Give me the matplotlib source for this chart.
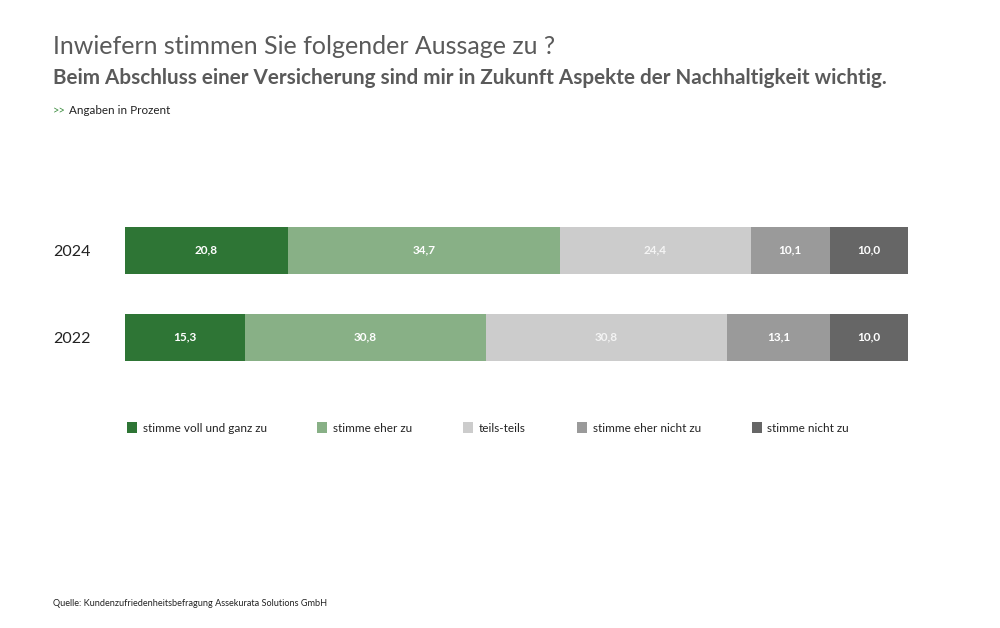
import matplotlib
matplotlib.use("Agg")
import matplotlib.pyplot as plt
import numpy as np

# data
years = ["2024", "2022"]
categories = ["stimme voll und ganz zu", "stimme eher zu", "teils-teils",
              "stimme eher nicht zu", "stimme nicht zu"]
values_2024 = [20.8, 34.7, 24.4, 10.1, 10.0]
values_2022 = [15.3, 30.8, 30.8, 13.1, 10.0]

colors = ["#2e7535", "#88b086", "#cccccc", "#9a9a9a", "#666666"]
label_colors = ["white", "white", "#f4f4f4", "white", "white"]
text_gray = "#5a5a5a"
green = "#3e8e41"

font = ["Lato", "DejaVu Sans"]
plt.rcParams["font.family"] = font

fig = plt.figure(figsize=(10, 6.28), dpi=100)
ax = fig.add_axes([0.125, 1 - 390 / 628, 0.783, 190 / 628])

data = np.array([values_2024, values_2022])
y = np.arange(len(years))
left = np.zeros(len(years))
for i, cat in enumerate(categories):
    bars = ax.barh(y, data[:, i], left=left, height=0.54, color=colors[i],
                   label=cat, edgecolor="none")
    for rect, v in zip(bars, data[:, i]):
        ax.text(rect.get_x() + rect.get_width() / 2, rect.get_y() + rect.get_height() / 2,
                f"{v:.1f}".replace(".", ","), ha="center", va="center",
                color=label_colors[i], fontsize=8.5, fontweight="bold")
    left += data[:, i]

ax.set_xlim(0, 100)
ax.set_ylim(1.609, -0.575)
ax.set_yticks(y)
ax.set_yticklabels(years, fontsize=11.5, color="#222222")
ax.tick_params(axis="y", length=0, pad=25)
ax.set_xticks([])
for s in ax.spines.values():
    s.set_visible(False)

fig.text(0.053, 1 - 47 / 628, "Inwiefern stimmen Sie folgender Aussage zu ?",
         fontsize=18, color=text_gray, va="center")
fig.text(0.053, 1 - 78 / 628,
         "Beim Abschluss einer Versicherung sind mir in Zukunft Aspekte der Nachhaltigkeit wichtig.",
         fontsize=14.9, fontweight="bold", color=text_gray, va="center")
fig.text(0.053, 1 - 111 / 628, ">>", fontsize=8, color=green, va="center")
fig.text(0.069, 1 - 111 / 628, "Angaben in Prozent", fontsize=8.4, color="#222222", va="center")
fig.text(0.053, 1 - 603 / 628, "Quelle: Kundenzufriedenheitsbefragung Assekurata Solutions GmbH",
         fontsize=6.6, color="#222222", va="center")

leg = ax.legend(ncol=5, loc="center left", bbox_to_anchor=(0.116, 1 - 428 / 628),
                bbox_transform=fig.transFigure, frameon=False, fontsize=8.5,
                handlelength=0.85, handleheight=1.1, handletextpad=0.5,
                columnspacing=4.3)
for t in leg.get_texts():
    t.set_color("#222222")

fig.savefig("out.png", dpi=100, facecolor="white")
